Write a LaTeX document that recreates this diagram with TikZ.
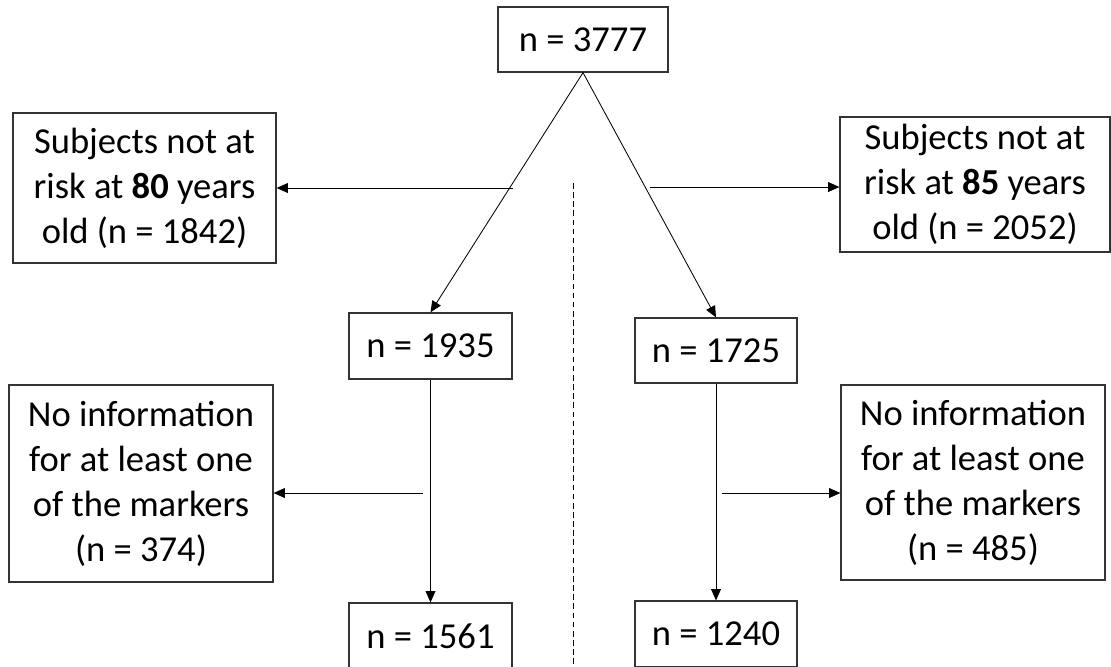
\documentclass[tikz,border=0pt]{standalone}
\usepackage{fontspec}
\setmainfont{Carlito}
\usetikzlibrary{arrows.meta}
\newcommand\pxu{0.025cm}
\begin{document}
\begin{tikzpicture}[x=\pxu, y=-\pxu,
    box/.style={draw=black!80, line width=0.9pt, align=center, inner sep=0pt,
        font=\fontsize{26}{32}\selectfont},
    arr/.style={-{Triangle[length=8pt,width=7pt]}, line width=0.6pt}]
	\useasboundingbox (0,0) rectangle (1111,666);
	\node[box, minimum width=170*\pxu, minimum height=65*\pxu] (n3777) at (583,39.5) {n = 3777};
	\node[box, minimum width=263*\pxu, minimum height=150*\pxu] (ex80) at (144.5,188) {Subjects not at\\risk at \textbf{80} years\\old (n = 1842)};
	\node[box, minimum width=270*\pxu, minimum height=135*\pxu] (ex85) at (975,184.5) {Subjects not at\\risk at \textbf{85} years\\old (n = 2052)};
	\node[box, minimum width=163*\pxu, minimum height=66*\pxu] (n1935) at (430.5,346) {n = 1935};
	\node[box, minimum width=162*\pxu, minimum height=65*\pxu] (n1725) at (716,350.5) {n = 1725};
	\node[box, minimum width=264*\pxu, minimum height=197*\pxu] (miss80) at (141,483.5) {No information\\for at least one\\of the markers\\(n = 374)};
	\node[box, minimum width=264*\pxu, minimum height=195*\pxu] (miss85) at (973,482.5) {No information\\for at least one\\of the markers\\(n = 485)};
	\node[box, minimum width=163*\pxu, minimum height=66*\pxu] (n1561) at (430.5,636) {n = 1561};
	\node[box, minimum width=162*\pxu, minimum height=66*\pxu] (n1240) at (716,634) {n = 1240};
	\coordinate (s80) at (513,188);
	\coordinate (s85) at (650,187);
	\coordinate (m80) at (423,493);
	\coordinate (m85) at (722,493);
	\coordinate (dtop) at (573,183);
	\coordinate (dbot) at (573,666);
	\draw[arr] (n3777.south) -- (n1935.north);
	\draw[arr] (n3777.south) -- (n1725.north);
	\draw[arr] (s80) -- (ex80.east |- s80);
	\draw[arr] (s85) -- (ex85.west |- s85);
	\draw[arr] (n1935.south) -- (n1561.north);
	\draw[arr] (n1725.south) -- (n1240.north);
	\draw[arr] (m80) -- (miss80.east |- m80);
	\draw[arr] (m85) -- (miss85.west |- m85);
	\draw[line width=0.6pt, dash pattern=on 4pt off 2.5pt] (dtop) -- (dbot);
\end{tikzpicture}
\end{document}
